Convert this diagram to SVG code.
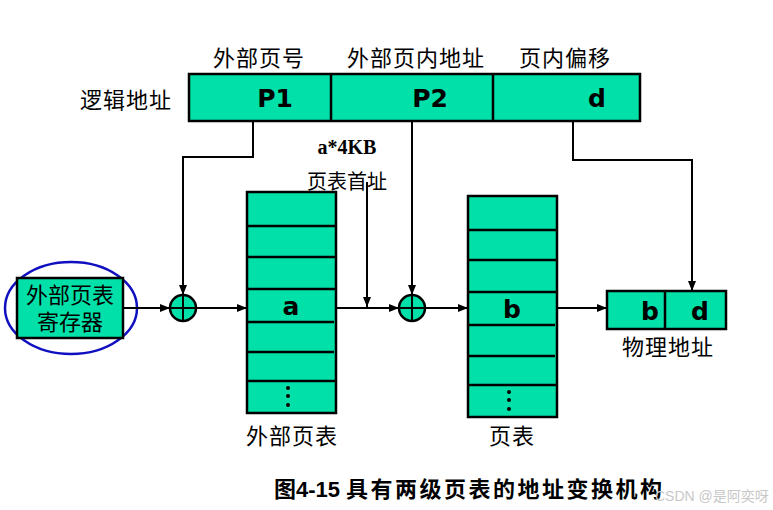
<svg xmlns="http://www.w3.org/2000/svg" width="773" height="510" viewBox="0 0 773 510">
<defs>
<marker id="ah" markerWidth="10" markerHeight="8" refX="10" refY="4" orient="auto" markerUnits="userSpaceOnUse">
<path d="M0,0 L10,4 L0,8 Z" fill="#000"/>
</marker>
<style>
.box{fill:#00E0A8;stroke:#000;stroke-width:2.5}
.ln{stroke:#000;stroke-width:2.5;fill:none}
.cn{stroke:#000;stroke-width:2;fill:none}
.zh{font-family:"Liberation Serif","Noto Sans CJK SC",serif;font-size:22px;fill:#000;letter-spacing:1px}
.big{font-family:"DejaVu Sans","Liberation Sans",sans-serif;font-weight:bold;font-size:25px;fill:#000}
.dot{fill:#000}
</style>
</defs>
<rect width="773" height="510" fill="#fff"/>

<g id="logical-address">
<text class="zh" x="80" y="108">逻辑地址</text>
<text class="zh" x="213" y="66">外部页号</text>
<text class="zh" x="347" y="66">外部页内地址</text>
<text class="zh" x="519" y="66">页内偏移</text>
<rect class="box" x="189" y="74" width="451" height="47"/>
<line class="ln" x1="331" y1="74" x2="331" y2="121"/>
<line class="ln" x1="493" y1="74" x2="493" y2="121"/>
<text class="big" x="275" y="107" text-anchor="middle">P1</text>
<text class="big" x="430" y="107" text-anchor="middle">P2</text>
<text class="big" x="597" y="107" text-anchor="middle">d</text>
</g>

<g id="register">
<ellipse cx="71" cy="308" rx="66" ry="46" fill="none" stroke="#1010C0" stroke-width="2.5"/>
<rect class="box" x="17" y="278" width="106" height="60"/>
<text class="zh" x="70" y="303" text-anchor="middle" style="font-size:22px;letter-spacing:0">外部页表</text>
<text class="zh" x="70" y="330" text-anchor="middle" style="font-size:22px;letter-spacing:0">寄存器</text>
</g>

<g id="adder1">
<circle cx="183" cy="308" r="13" fill="#00E0A8" stroke="#000" stroke-width="2.5"/>
<line class="cn" x1="170" y1="308" x2="196" y2="308"/>
<line class="cn" x1="183" y1="295" x2="183" y2="321"/>
</g>

<g id="outer-page-table">
<rect class="box" x="247" y="192" width="89" height="221"/>
<line class="ln" x1="247" y1="226" x2="336" y2="226"/>
<line class="ln" x1="247" y1="257" x2="336" y2="257"/>
<line class="ln" x1="247" y1="289" x2="336" y2="289"/>
<line class="ln" x1="247" y1="322" x2="334" y2="322"/>
<line class="ln" x1="247" y1="352" x2="334" y2="352"/>
<line class="ln" x1="247" y1="381" x2="336" y2="381"/>
<text class="big" x="291" y="315" text-anchor="middle">a</text>
<circle class="dot" cx="288" cy="388" r="2"/>
<circle class="dot" cx="288" cy="396" r="2"/>
<circle class="dot" cx="288" cy="405" r="2"/>
<text class="zh" x="292" y="444" text-anchor="middle">外部页表</text>
</g>

<g id="page-table-base">
<text x="347" y="154" text-anchor="middle" font-family="Liberation Serif, serif" font-weight="bold" font-size="20">a*4KB</text>
<text class="zh" x="347" y="189" text-anchor="middle" style="font-size:20px;letter-spacing:0">页表首址</text>
</g>

<g id="adder2">
<circle cx="412" cy="308" r="13" fill="#00E0A8" stroke="#000" stroke-width="2.5"/>
<line class="cn" x1="399" y1="308" x2="425" y2="308"/>
<line class="cn" x1="412" y1="295" x2="412" y2="321"/>
</g>

<g id="page-table">
<rect class="box" x="468" y="196" width="89" height="221"/>
<line class="ln" x1="468" y1="230" x2="557" y2="230"/>
<line class="ln" x1="468" y1="260" x2="557" y2="260"/>
<line class="ln" x1="468" y1="292" x2="557" y2="292"/>
<line class="ln" x1="468" y1="325" x2="555" y2="325"/>
<line class="ln" x1="468" y1="356" x2="555" y2="356"/>
<line class="ln" x1="468" y1="385" x2="557" y2="385"/>
<text class="big" x="512" y="318" text-anchor="middle">b</text>
<circle class="dot" cx="509" cy="392" r="2"/>
<circle class="dot" cx="509" cy="400" r="2"/>
<circle class="dot" cx="509" cy="409" r="2"/>
<text class="zh" x="512" y="444" text-anchor="middle">页表</text>
</g>

<g id="physical-address">
<rect class="box" x="607" y="291" width="119" height="38"/>
<line class="ln" x1="665" y1="291" x2="665" y2="329"/>
<text class="big" x="650" y="320" text-anchor="middle">b</text>
<text class="big" x="700" y="320" text-anchor="middle">d</text>
<text class="zh" x="668" y="355" text-anchor="middle">物理地址</text>
</g>

<g id="connectors">
<polyline class="cn" points="253,121 253,157 183,157 183,295" marker-end="url(#ah)"/>
<polyline class="cn" points="412,121 412,295" marker-end="url(#ah)"/>
<polyline class="cn" points="573,121 573,160 692,160 692,291" marker-end="url(#ah)"/>
<line class="cn" x1="123" y1="308" x2="170" y2="308" marker-end="url(#ah)"/>
<line class="cn" x1="196" y1="308" x2="247" y2="308" marker-end="url(#ah)"/>
<line class="cn" x1="336" y1="308" x2="399" y2="308" marker-end="url(#ah)"/>
<line class="cn" x1="367" y1="182" x2="367" y2="307" marker-end="url(#ah)"/>
<line class="cn" x1="425" y1="308" x2="468" y2="308" marker-end="url(#ah)"/>
<line class="cn" x1="557" y1="308" x2="607" y2="308" marker-end="url(#ah)"/>
</g>

<g id="caption">
<text x="274" y="497" font-family="'Liberation Sans','Noto Sans CJK SC',sans-serif" font-weight="bold" font-size="22">图4-15<tspan x="346" letter-spacing="2.5">具有两级页表的地址变换机构</tspan></text>
<text x="655" y="501" font-family="'Liberation Sans','Noto Sans CJK SC',sans-serif" font-size="14" fill="#c8c8c8">CSDN @是阿奕呀</text>
</g>
</svg>
